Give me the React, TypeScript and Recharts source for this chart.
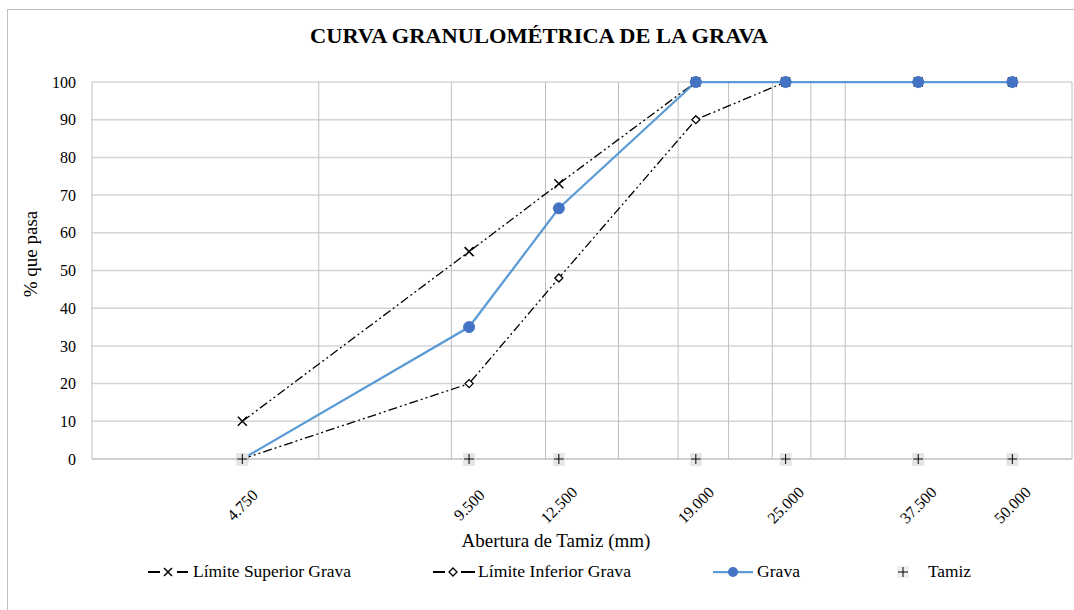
import React from 'react';
import { LineChart, Line, XAxis, YAxis, CartesianGrid, ReferenceLine } from 'recharts';

const sieveSizes = [4.75, 9.5, 12.5, 19, 25, 37.5, 50];
const upperLimit = [10, 55, 73, 100, 100, 100, 100];
const lowerLimit = [0, 20, 48, 90, 100, 100, 100];
const gravaPassing = [0, 35, 66.5, 100, 100, 100, 100];
const tamizBase = [0, 0, 0, 0, 0, 0, 0];
const yTicks = [0, 10, 20, 30, 40, 50, 60, 70, 80, 90, 100];
const verticalGridValues = [3, 6, 9, 12, 15, 18, 21, 24, 27, 30, 60];
const xDomain: [number, number] = [3, 60];
const titleText = 'CURVA GRANULOMÉTRICA  DE LA GRAVA';
const xTitle = 'Abertura de Tamiz  (mm)';
const yTitle = '% que pasa';
const seriesNames = ['Límite Superior Grava', 'Límite Inferior Grava', 'Grava', 'Tamiz'];

const data = sieveSizes.map((s, i) => ({
  size: s,
  upper: upperLimit[i],
  lower: lowerLimit[i],
  grava: gravaPassing[i],
  tamiz: tamizBase[i],
}));

const FONT = '"Liberation Serif", "Times New Roman", Times, "DejaVu Serif", serif';
const fontStyle: React.CSSProperties = { fontFamily: FONT };
const DASH = '9 3 2 3 2 3';
const BLUE_LINE = '#5b9bd5';
const BLUE_FILL = '#4472c4';

const CrossDot = (props: any) => {
  const { cx, cy, index } = props;
  if (cx == null || cy == null) return <g key={`c${index}`} />;
  const s = 4.5;
  return (
    <path
      key={`c${index}`}
      d={`M${cx - s},${cy - s}L${cx + s},${cy + s}M${cx + s},${cy - s}L${cx - s},${cy + s}`}
      stroke="#000"
      strokeWidth={1.5}
      fill="none"
    />
  );
};

const DiamondDot = (props: any) => {
  const { cx, cy, index } = props;
  if (cx == null || cy == null) return <g key={`d${index}`} />;
  const s = 4;
  return (
    <path
      key={`d${index}`}
      d={`M${cx},${cy - s}L${cx + s},${cy}L${cx},${cy + s}L${cx - s},${cy}Z`}
      stroke="#000"
      strokeWidth={1.3}
      fill="#fff"
    />
  );
};

const CircleDot = (props: any) => {
  const { cx, cy, index } = props;
  if (cx == null || cy == null) return <g key={`o${index}`} />;
  return <circle key={`o${index}`} cx={cx} cy={cy} r={5.5} fill={BLUE_FILL} stroke={BLUE_FILL} strokeWidth={1} />;
};

const PlusDot = (props: any) => {
  const { cx, cy, index } = props;
  if (cx == null || cy == null) return <g key={`p${index}`} />;
  return (
    <g key={`p${index}`}>
      <rect x={cx - 6} y={cy - 6} width={12} height={13} fill="#e6e6e6" />
      <path d={`M${cx - 5},${cy}L${cx + 5},${cy}M${cx},${cy - 5}L${cx},${cy + 5}`} stroke="#000" strokeWidth={1} />
    </g>
  );
};

const XTick = (props: any) => {
  const { x, y, payload } = props;
  const cy = y + 38;
  return (
    <text
      x={x}
      y={cy}
      textAnchor="middle"
      dominantBaseline="central"
      transform={`rotate(-45, ${x}, ${cy})`}
      fontSize={16}
      style={fontStyle}
      fill="#000"
    >
      {Number(payload.value).toFixed(3)}
    </text>
  );
};

export default function App() {
  return (
    <div style={{ position: 'absolute', left: 0, top: 0, width: 1074, height: 610, background: '#fff', overflow: 'hidden', fontFamily: FONT }}>
      <div
        style={{
          position: 'absolute',
          left: 7,
          top: 9,
          width: 1100,
          height: 700,
          borderLeft: '1px solid #bfbfbf',
          borderTop: '1px solid #bfbfbf',
        }}
      />
      <div style={{ position: 'absolute', left: 0, top: 0 }}>
        <LineChart width={1074} height={610} data={data} margin={{ top: 82, right: 2, left: 52, bottom: 91 }}>
          <CartesianGrid vertical={false} stroke="#d4d4d4" strokeWidth={1.5} />
          {verticalGridValues.map((v) => (
            <ReferenceLine key={`vg${v}`} x={v} stroke="#bfbfbf" strokeWidth={1} />
          ))}
          <XAxis
            dataKey="size"
            type="number"
            scale="log"
            domain={xDomain}
            ticks={sieveSizes}
            allowDataOverflow
            height={60}
            tickLine={false}
            axisLine={{ stroke: '#bfbfbf' }}
            tick={<XTick />}
            interval={0}
          />
          <YAxis
            type="number"
            domain={[0, 100]}
            ticks={yTicks}
            width={40}
            axisLine={false}
            tickLine={false}
            tickMargin={10}
            tick={{ fontSize: 16, fill: '#000', style: fontStyle }}
            interval={0}
          />
          <Line
            dataKey="upper"
            name={seriesNames[0]}
            stroke="#000"
            strokeWidth={1.3}
            strokeDasharray={DASH}
            dot={CrossDot}
            activeDot={false}
            isAnimationActive={false}
          />
          <Line
            dataKey="lower"
            name={seriesNames[1]}
            stroke="#000"
            strokeWidth={1.3}
            strokeDasharray={DASH}
            dot={DiamondDot}
            activeDot={false}
            isAnimationActive={false}
          />
          <Line
            dataKey="grava"
            name={seriesNames[2]}
            stroke={BLUE_LINE}
            strokeWidth={2.25}
            dot={CircleDot}
            activeDot={false}
            isAnimationActive={false}
          />
          <Line
            dataKey="tamiz"
            name={seriesNames[3]}
            stroke="none"
            strokeWidth={0}
            dot={PlusDot}
            activeDot={false}
            isAnimationActive={false}
          />
        </LineChart>
      </div>
      <svg width={1074} height={610} style={{ position: 'absolute', left: 0, top: 0, pointerEvents: 'none', fontFamily: FONT }}>
        <text x={539} y={43} textAnchor="middle" style={fontStyle} fontWeight="bold" fontSize={21.5} fill="#000" textLength={458} lengthAdjust="spacingAndGlyphs">
          {titleText}
        </text>
        <text x={556} y={547} textAnchor="middle" style={fontStyle} fontSize={19} fill="#000">
          {xTitle}
        </text>
        <text
          x={37}
          y={254}
          textAnchor="middle"
          style={fontStyle}
          fontSize={19}
          fill="#000"
          transform="rotate(-90, 37, 254)"
        >
          {yTitle}
        </text>
        <g>
          <path d="M148,572L160,572M177,572L188,572" stroke="#000" strokeWidth={1.8} />
          <path d="M164,568L172,576M172,568L164,576" stroke="#000" strokeWidth={1.5} />
          <text x={193} y={577} style={fontStyle} fontSize={16} fill="#000" textLength={158} lengthAdjust="spacingAndGlyphs">
            {seriesNames[0]}
          </text>
          <path d="M433,572L445,572M461,572L475,572" stroke="#000" strokeWidth={1.8} />
          <path d="M453,568L457,572L453,576L449,572Z" stroke="#000" strokeWidth={1.3} fill="#fff" />
          <text x={478} y={577} style={fontStyle} fontSize={16} fill="#000" textLength={153} lengthAdjust="spacingAndGlyphs">
            {seriesNames[1]}
          </text>
          <path d="M713,572L753,572" stroke={BLUE_LINE} strokeWidth={2.25} />
          <circle cx={733} cy={572} r={5} fill={BLUE_FILL} />
          <text x={757} y={577} style={fontStyle} fontSize={16} fill="#000" textLength={43} lengthAdjust="spacingAndGlyphs">
            {seriesNames[2]}
          </text>
          <rect x={897} y={566} width={12} height={12} fill="#eeeeee" />
          <path d="M898,572L908,572M903,567L903,577" stroke="#000" strokeWidth={1} />
          <text x={928} y={577} style={fontStyle} fontSize={16} fill="#000" textLength={43} lengthAdjust="spacingAndGlyphs">
            {seriesNames[3]}
          </text>
        </g>
      </svg>
    </div>
  );
}
